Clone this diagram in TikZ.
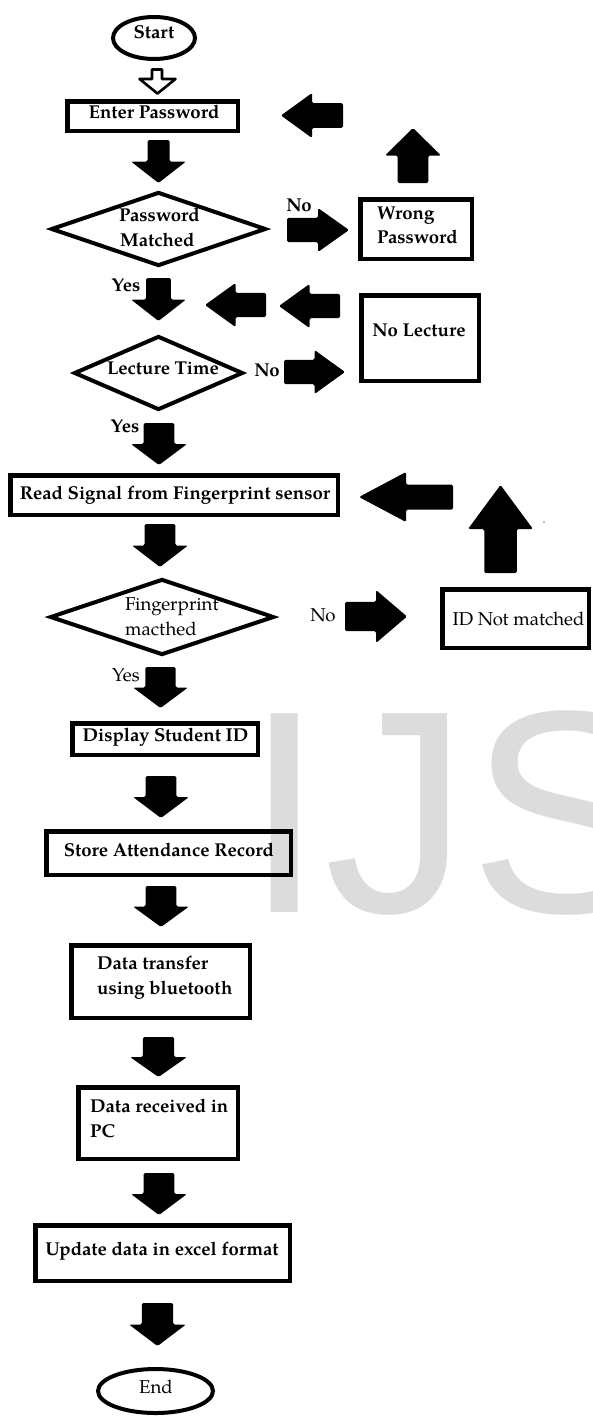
\documentclass[tikz,border=0pt]{standalone}
\usepackage{fontspec}
\setmainfont{TeX Gyre Pagella}
\newfontfamily\wmfont{Liberation Sans}
\usetikzlibrary{shapes.geometric}
\definecolor{wmgray}{HTML}{DCDCDC}

% block arrows: [shaft ratio]{x1}{y1}{x2}{y2} (bounding box), head = half of length
\newcommand{\blkD}[5][0.55]{%
 \pgfmathsetmacro\bcx{(#2+#4)/2}\pgfmathsetmacro\bhw{(#4-#2)*#1/2}\pgfmathsetmacro\bm{#3+(#5-#3)*0.5}%
 \fill[blk] (\bcx-\bhw,#3) -- (\bcx+\bhw,#3) -- (\bcx+\bhw,\bm) -- (#4,\bm) -- (\bcx,#5) -- (#2,\bm) -- (\bcx-\bhw,\bm) -- cycle;}
\newcommand{\blkU}[5][0.55]{%
 \pgfmathsetmacro\bcx{(#2+#4)/2}\pgfmathsetmacro\bhw{(#4-#2)*#1/2}\pgfmathsetmacro\bm{#3+(#5-#3)*0.5}%
 \fill[blk] (\bcx,#3) -- (#4,\bm) -- (\bcx+\bhw,\bm) -- (\bcx+\bhw,#5) -- (\bcx-\bhw,#5) -- (\bcx-\bhw,\bm) -- (#2,\bm) -- cycle;}
\newcommand{\blkR}[5][0.55]{%
 \pgfmathsetmacro\bcy{(#3+#5)/2}\pgfmathsetmacro\bhw{(#5-#3)*#1/2}\pgfmathsetmacro\bm{#2+(#4-#2)*0.5}%
 \fill[blk] (#2,\bcy-\bhw) -- (\bm,\bcy-\bhw) -- (\bm,#3) -- (#4,\bcy) -- (\bm,#5) -- (\bm,\bcy+\bhw) -- (#2,\bcy+\bhw) -- cycle;}
\newcommand{\blkL}[5][0.55]{%
 \pgfmathsetmacro\bcy{(#3+#5)/2}\pgfmathsetmacro\bhw{(#5-#3)*#1/2}\pgfmathsetmacro\bm{#4-(#4-#2)*0.5}%
 \fill[blk] (#4,\bcy-\bhw) -- (\bm,\bcy-\bhw) -- (\bm,#3) -- (#2,\bcy) -- (\bm,#5) -- (\bm,\bcy+\bhw) -- (#4,\bcy+\bhw) -- cycle;}

\begin{document}
\begin{tikzpicture}[x=1pt,y=-1pt,
  blk/.style={fill=black, rounded corners=1.5pt},
  box/.style={draw, line width=4.5pt, inner sep=0pt},
  term/.style={draw, ellipse, line width=4pt, inner sep=0pt},
  dia/.style={draw, diamond, line width=4pt, inner sep=0pt, aspect=2.6},
  tb/.style={inner sep=0pt, text height=0.68em, text depth=0pt, font=\fontsize{18.6}{21}\selectfont\bfseries},
  tr/.style={inner sep=0pt, text height=0.68em, text depth=0pt, font=\fontsize{18.6}{21}\selectfont},
]
\useasboundingbox (0,0) rectangle (592,1416);
\clip (0,0) rectangle (592,1416);

% watermark
\node[anchor=base west, inner sep=0pt, text=wmgray] (wm) at (244,912) {\wmfont\fontsize{289}{289}\selectfont IJS};

% terminals
\node[term, minimum width=82pt, minimum height=42pt] (start) at (154,38) {};
\node[tb] (t-start) at (154,35) {Start};
\node[term, minimum width=115pt, minimum height=44pt] (end) at (155.5,1391) {};
\node[tr] (t-end) at (156,1390) {End};

% boxes
\node[box, minimum width=170.5pt, minimum height=29.5pt] (enter) at (152.5,116) {};
\node[tb] (t-enter) at (154,115) {Enter Password};
\node[box, minimum width=111.5pt, minimum height=59.5pt] (wrong) at (416,229) {};
\node[tb, anchor=west] (t-wrong1) at (377,216) {Wrong};
\node[tb, anchor=west] (t-wrong2) at (377,240) {Password};
\node[box, minimum width=117.5pt, minimum height=85.5pt] (nolect) at (420,338) {};
\node[tb] (t-nolect) at (419,333) {No Lecture};
\node[box, minimum width=327.5pt, minimum height=39.5pt] (read) at (174,495) {};
\node[tb] (t-read) at (175,496) {Read Signal from Fingerprint sensor};
\node[box, minimum width=146.5pt, minimum height=58.5pt] (idnm) at (515.5,618.5) {};
\node[tr] (t-idnm) at (518.5,622) {ID Not matched};
\node[box, minimum width=185.5pt, minimum height=31.5pt] (disp) at (165,739) {};
\node[tb] (t-disp) at (165.5,738) {Display Student ID};
\node[box, minimum width=244.5pt, minimum height=43.5pt] (store) at (168.5,853) {};
\node[tb] (t-store) at (169,853) {Store Attendance Record};
\node[box, minimum width=178.5pt, minimum height=72.5pt] (transfer) at (160.5,981.5) {};
\node[tb, anchor=west] (t-transfer1) at (97,966) {Data transfer};
\node[tb, anchor=west] (t-transfer2) at (97,991) {using bluetooth};
\node[box, minimum width=159.5pt, minimum height=71.5pt] (recv) at (158,1123) {};
\node[tb, anchor=west] (t-recv1) at (90,1109) {Data received in};
\node[tb, anchor=west] (t-recv2) at (90,1134) {PC};
\node[box, minimum width=254.5pt, minimum height=55.5pt] (update) at (162.5,1253) {};
\node[tb] (t-update) at (162,1252) {Update data in excel format};

% decisions
\node[dia, minimum width=215pt, minimum height=74pt] (pwm) at (158.5,229) {};
\node[tb, anchor=west] (t-pwm1) at (119,218) {Password};
\node[tb, anchor=west] (t-pwm2) at (120,243) {Matched};
\node[dia, minimum width=169pt, minimum height=74pt] (lect) at (158.5,373) {};
\node[tb] (t-lect) at (163,371) {Lecture Time};
\node[dia, minimum width=224pt, minimum height=76pt] (fpm) at (162,617) {};
\node[tr, anchor=west] (t-fpm1) at (125,607) {Fingerprint};
\node[tr, anchor=west] (t-fpm2) at (125,632) {macthed};

% labels
\node[tb] (l-no1) at (299,208) {No};
\node[tb] (l-yes1) at (126,288) {Yes};
\node[tb] (l-no2) at (267,373) {No};
\node[tb] (l-yes2) at (125,429) {Yes};
\node[tr] (l-no3) at (323,618) {No};
\node[tr] (l-yes3) at (126,678) {Yes};

% hollow arrow Start -> Enter Password
\draw[line width=2.6pt, fill=white, line join=round]
  (152,69.5) -- (162,69.5) -- (162,79) -- (175.5,79) -- (157.5,93.5) -- (139.5,79) -- (152,79) -- cycle;

% block arrows
\blkL{281}{93}{343}{138}
\blkD[0.4]{131}{140}{186}{183}
\blkU{385}{128}{441}{183}
\blkR{287}{208}{349}{252}
\blkD[0.45]{131}{278}{186}{321}
\blkL{205}{283}{266}{327}
\blkL{279}{284}{340}{328}
\blkR{284}{350}{345}{394}
\blkD{131}{423}{187}{465}
\blkL[0.5]{359}{472}{453}{522}
\blkU[0.5]{468}{485}{533}{573}
\blkD{132}{524}{188}{567}
\blkR{345}{590}{407}{643}
\blkD{133}{667}{188}{708}
\blkD{133}{776}{189}{818}
\blkD{133}{886}{189}{927}
\blkD{130}{1037}{187}{1077}
\blkD{131}{1173}{187}{1215}
\blkD{129}{1303}{186}{1346}

% speck
\fill[gray] (544,522) circle (0.8);
\end{tikzpicture}
\end{document}
